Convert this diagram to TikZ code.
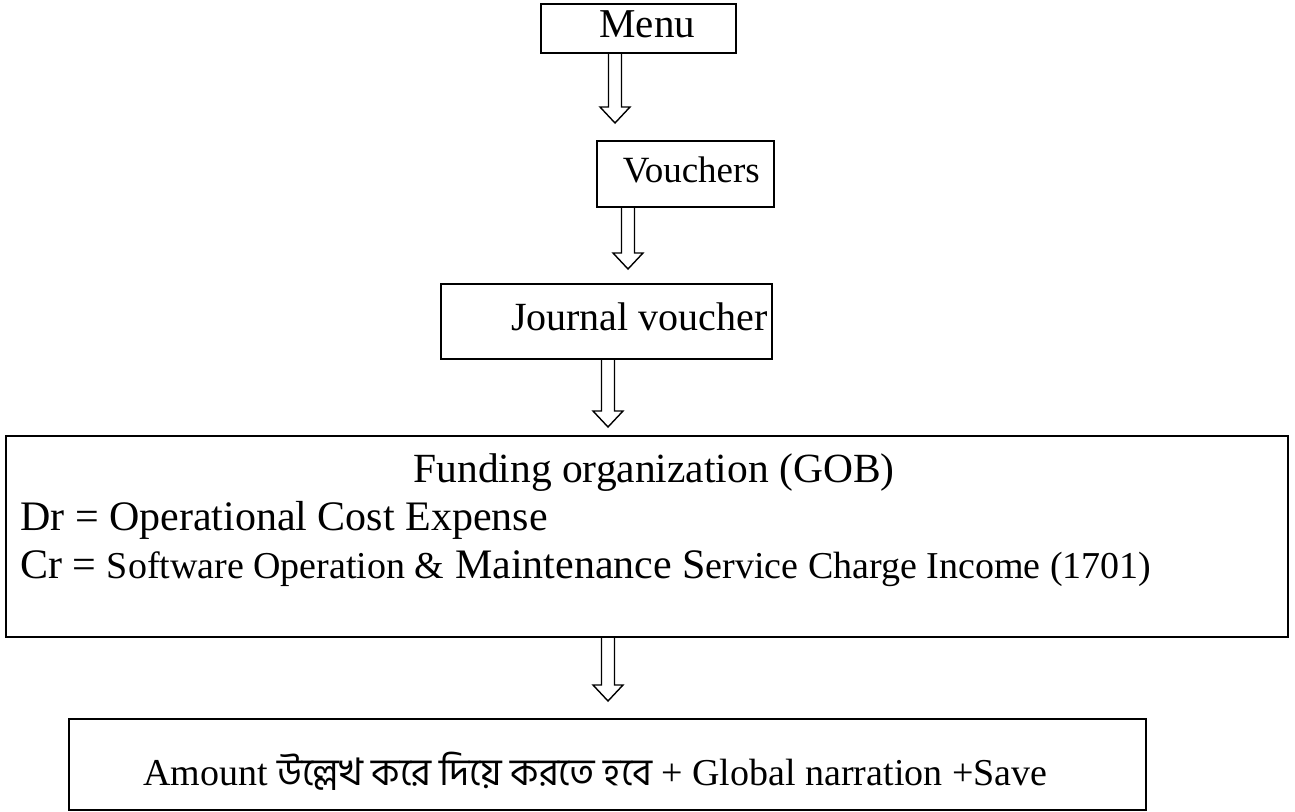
\documentclass[tikz,border=0pt]{standalone}
\usepackage{fontspec}
\setmainfont{Liberation Serif}
\newfontfamily\bnfont[Script=Bengali]{Hind Siliguri}
\usetikzlibrary{calc}

\newcommand\txtsize[1]{\fontsize{#1}{1.2\dimexpr#1pt\relax}\selectfont}

% hollow block arrow: x position, upper node, lower node, gap above lower node
\newcommand\hollowarrow[4]{%
  \draw[hollow] let \p1=(#1,0 |- #2.south), \p2=(#1,0 |- #3.north) in
    (\x1-6.5pt,\y1) -- (\x1-6.5pt,\y2+#4pt+16pt) -- (\x1-15pt,\y2+#4pt+16pt)
    -- (\x1,\y2+#4pt) -- (\x1+15pt,\y2+#4pt+16pt) -- (\x1+6.5pt,\y2+#4pt+16pt)
    -- (\x1+6.5pt,\y1);
}

\begin{document}
\begin{tikzpicture}[
  x=1pt, y=-1pt,
  box/.style={draw, line width=1.6pt, anchor=north west, inner sep=0pt,
              text height=27pt, text depth=9pt, font=\txtsize{40}},
  txt/.style={inner sep=0pt, font=\txtsize{42}},
  hollow/.style={draw, line width=1.4pt, line join=miter},
]
\useasboundingbox (0,0) rectangle (1295,811);

% boxes
\node[box, minimum width=195pt, minimum height=49pt, font=\txtsize{41}] (menu) at (540,3) {\hspace*{18pt}Menu};
\node[box, minimum width=177pt, minimum height=66pt, font=\txtsize{37}] (vouchers) at (596,140) {\hspace*{12pt}Vouchers};
\node[box, minimum width=331pt, minimum height=75pt] (journal) at (440,283) {\hspace*{66pt}Journal voucher};
\node[box, minimum width=1282pt, minimum height=201pt] (fund) at (5,435) {};
\node[box, minimum width=1077pt, minimum height=91pt] (amount) at (68,718) {};

% texts in the big boxes
\node[txt, anchor=base, font=\txtsize{41.5}] (title) at (654,482) {Funding organization (GOB)};
\node[txt, anchor=base west] (dr) at (20,530) {Dr = Operational Cost Expense};
\node[txt, anchor=base west] (cr) at (20,578)
  {Cr = {\txtsize{38}Software Operation \&} Maintenance S{\txtsize{38}ervice Charge Income (1701)}};
\node[txt, anchor=base west, font=\txtsize{38}] (amt) at (143,785)
  {Amount {\bnfont উল্লেখ করে দিয়ে করতে হবে} + Global narration +Save};

% arrows
\hollowarrow{615}{menu}{vouchers}{17}
\hollowarrow{628}{vouchers}{journal}{14}
\hollowarrow{608}{journal}{fund}{8}
\hollowarrow{608}{fund}{amount}{17}

\end{tikzpicture}
\end{document}
